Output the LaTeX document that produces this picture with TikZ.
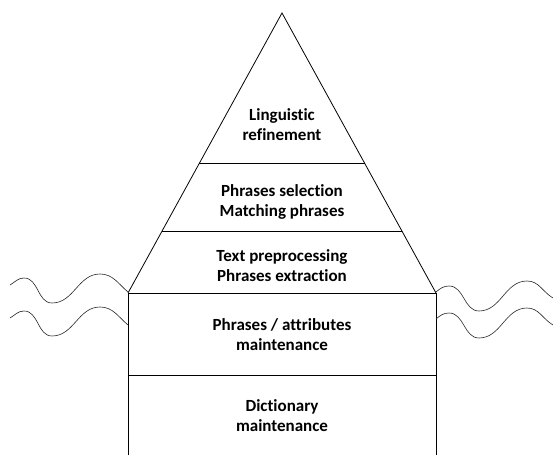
\documentclass[tikz,border=0pt]{standalone}
\usepackage{fontspec}
\setmainfont[Ligatures={NoCommon}]{Carlito}
\usetikzlibrary{calc}
\tikzstyle{layer}=[
	align=center,
	inner sep=0pt,
	font=\fontsize{17pt}{20pt}\selectfont\bfseries
]
\tikzstyle{outline}=[
	line width=0.8pt,
	black
]
\tikzstyle{wave}=[
	line width=0.6pt,
	black!85
]

\begin{document}
\begin{tikzpicture}[x=1pt,y=1pt]
\useasboundingbox (0,0) rectangle (553,455);
\coordinate (apex) at (282,442);
\coordinate (baseL) at (128,162);
\coordinate (baseR) at (436,162);
% pyramid
\draw [outline] (baseL) -- (apex) -- (baseR);
\draw [outline] ($(apex)!0.536!(baseL)$) -- ($(apex)!0.536!(baseR)$);
\draw [outline] ($(apex)!0.779!(baseL)$) -- ($(apex)!0.779!(baseR)$);
% base block
\draw [outline] (128,0) -- (baseL) -- (baseR) -- (436,0);
\draw [outline] (128,80) -- (436,80);
% water
\foreach \dy in {0,-33} {
	\draw [wave, yshift=\dy] (10,170) to[out=30,in=180] (24,177) to[out=0,in=180] (52,152)
		to[out=0,in=180] (100,181) to[out=0,in=140] (128,163);
}
\foreach \dy in {0,-27} {
	\draw [wave, yshift=\dy] (436,163) to[out=40,in=180] (449,169) to[out=0,in=180] (479,144)
		to[out=0,in=180] (527,174) to[out=0,in=150] (553,157);
}
\node [layer] (Refinement) at (282,330) {Linguistic\\refinement};
\node [layer] (Selection) at (282,253) {Phrases selection\\Matching phrases};
\node [layer] (Extraction) at (282,189) {Text preprocessing\\Phrases extraction};
\node [layer] (Attributes) at (282,120) {Phrases / attributes\\maintenance};
\node [layer] (Dictionary) at (282,39) {Dictionary\\maintenance};
\end{tikzpicture}
\end{document}
